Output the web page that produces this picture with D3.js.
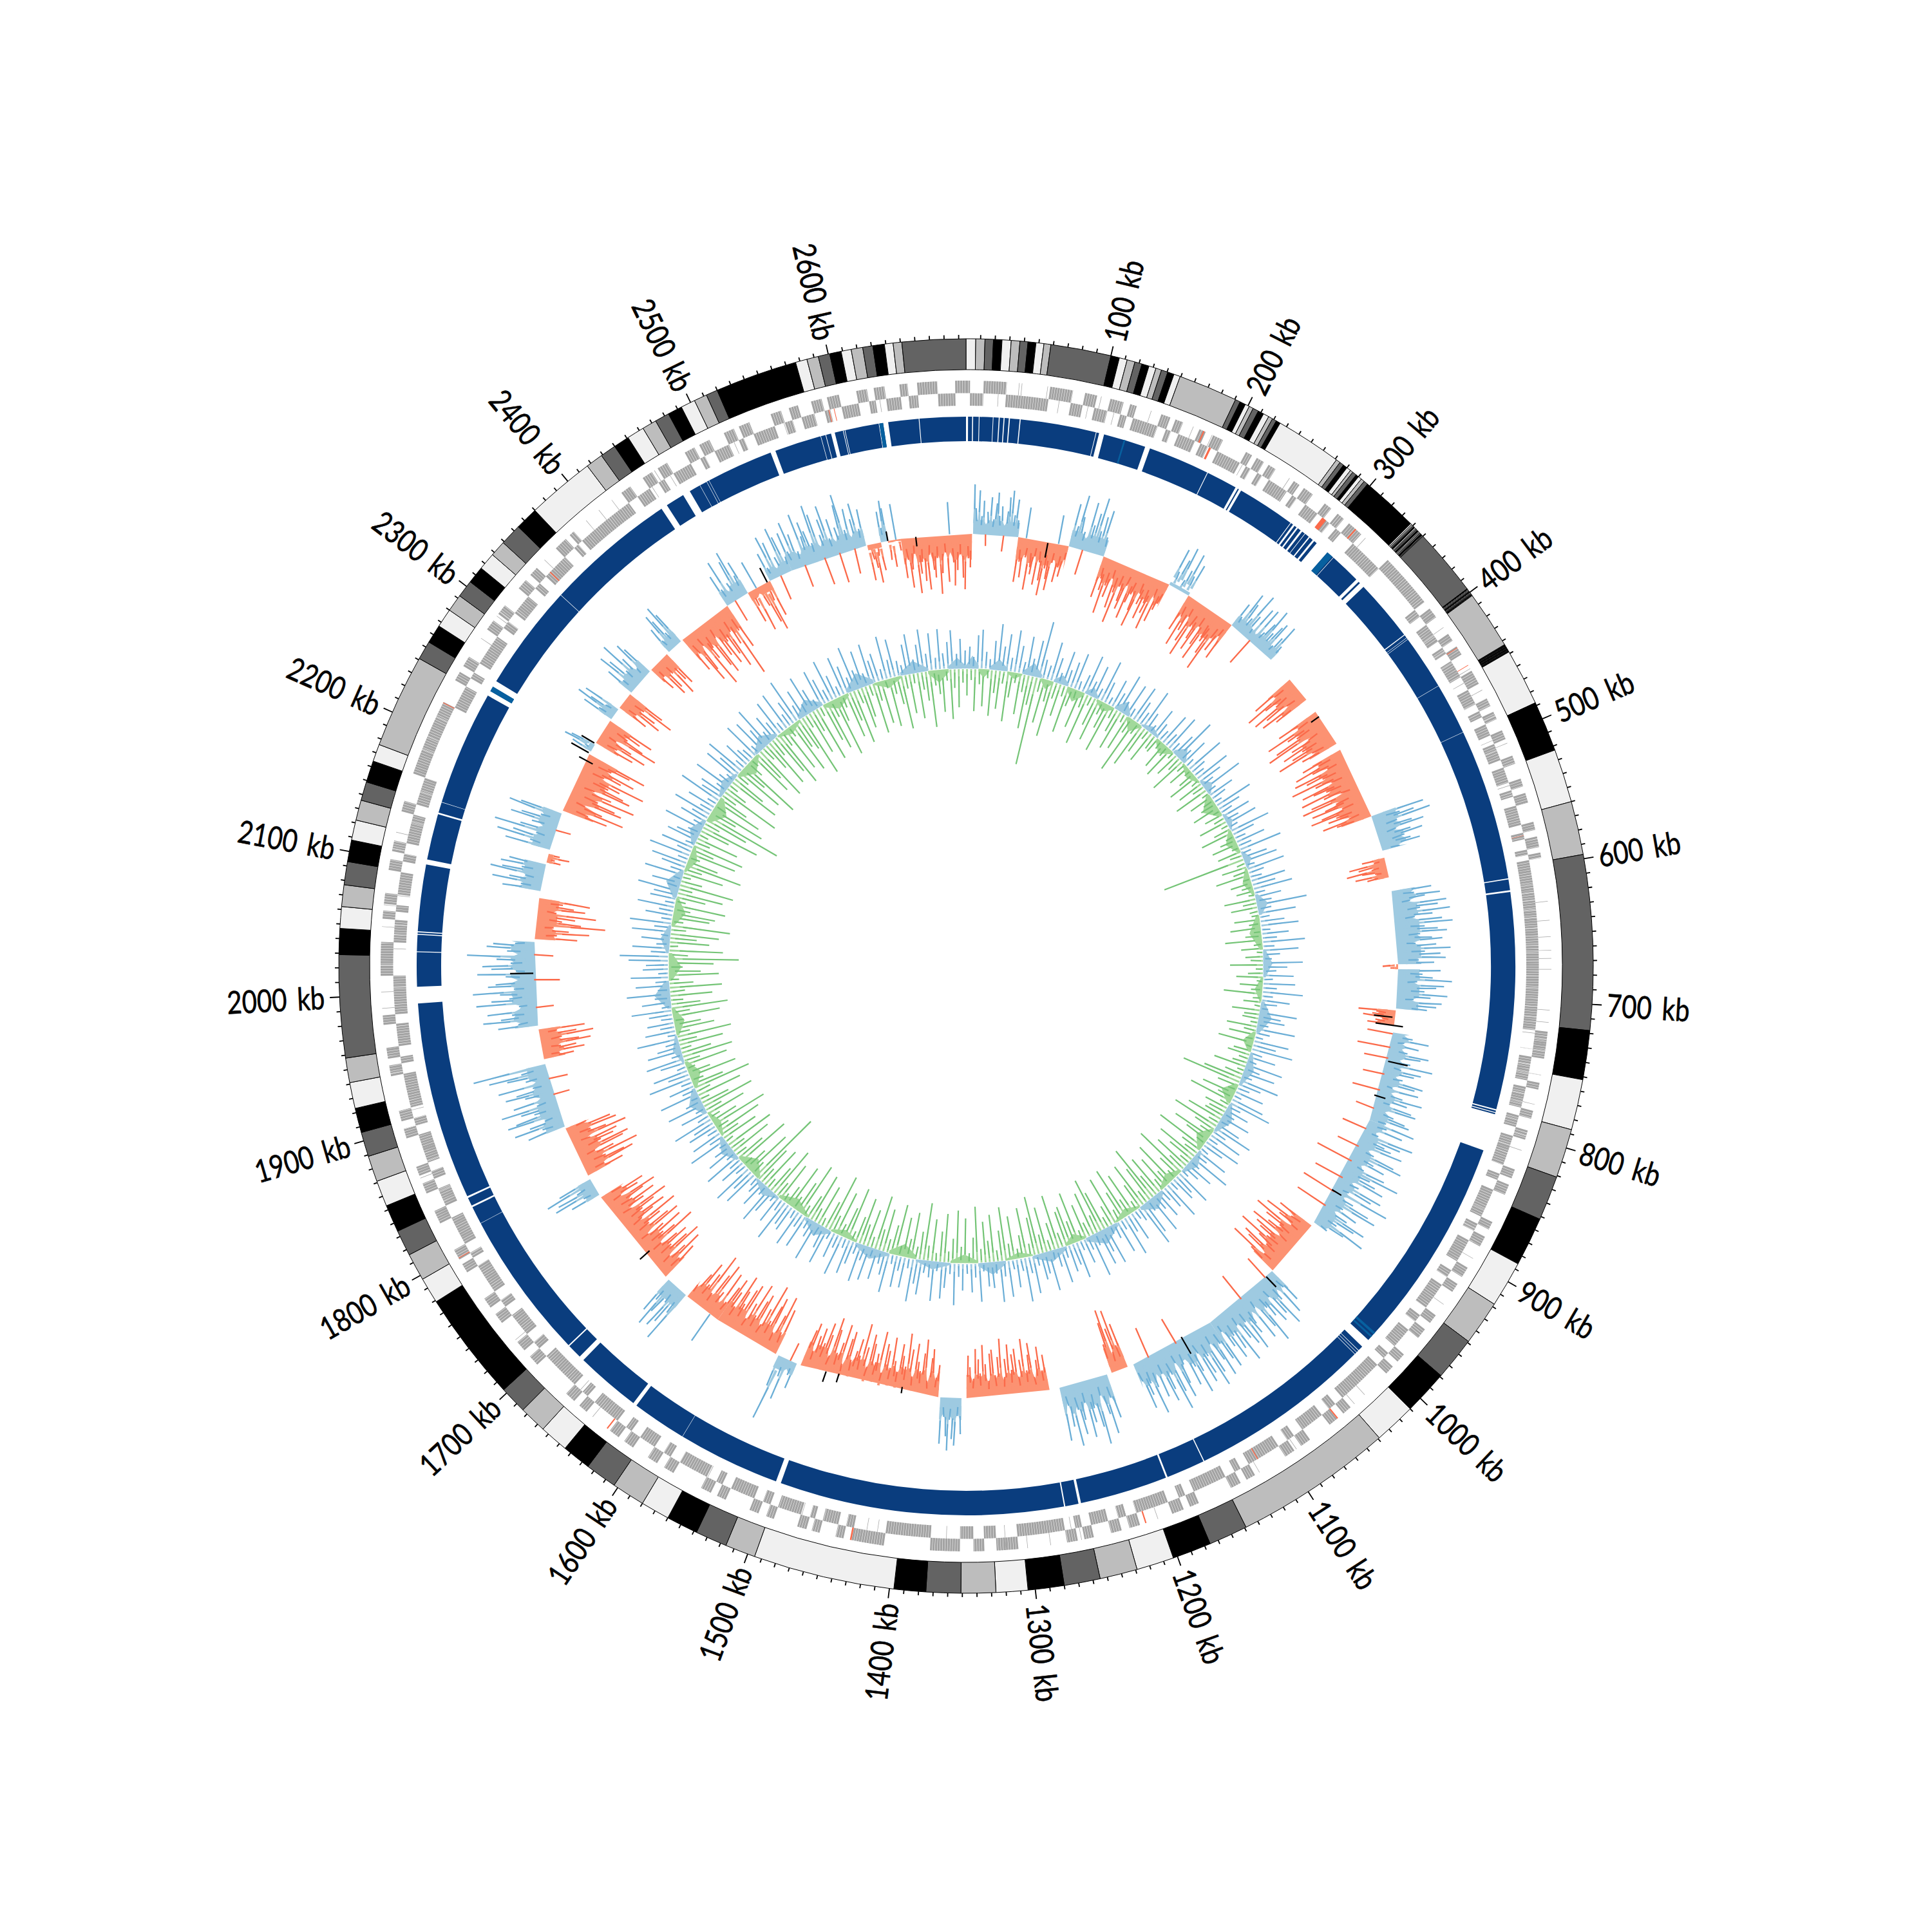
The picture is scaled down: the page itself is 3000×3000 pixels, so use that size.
<!DOCTYPE html>
<html><head><meta charset="utf-8">
<script src="https://cdn.jsdelivr.net/npm/d3@7"></script>
<style>html,body{margin:0;background:#fff}svg{display:block}text{font-family:Lato,"Noto Sans",sans-serif}</style>
</head><body><div id="c"></div>
<script>
const genomeKb = 2695;
const bandColors = ["#f0f0f0","#bdbdbd","#636363","#000000"];
const bandEnds = [6.7,13,18.8,24.7,31,37,42.5,48,53.5,58.3,100,106,111.5,117,122,127,132,136,140.5,145,149.5,190.5,194,198,201,204,208,212,216,219,222,225,271,274,277,280,283,285,288,290,292.5,295,298,338,
339,340,341,342,342.8,343.5,344.5,345.5,346.2,347,348,349,349.5,350,397,397.7,398.3,399,399.6,400.2,400.8,401.4,402,402.4,402.8,443,443.5,444,444.4,444.8,445.2,445.6,446,446.4,446.8,447.2,447.6,448,448.4,448.8,488,488.2,488.4,523,560,597,718,752,787,821,852,886,918,949,979,1010,1039,1149,1176,1203,1229,1255,1280,1305,1327,1351,1375,1397,1495,1516,1538,1560,1580,1603,1625,1645,1665,1684,1703,1779,1797,1816,1834,1853,1871,1889,1906,1923,1941,1958,2029,2047,2062,2077,2093,2108,2122,2136,2149,2164,2176,2241,2254,2267,2280,2292,2304,2316,2328,2339,2354,2370,2417,2429,2440,2451,2463,2473,2483,2493,2503,2512,2520,2577,2585,2593,2601,2609,2616,2624,2631,2639,2645,2651,2695];
const tickLabels = [100,200,300,400,500,600,700,800,900,1000,1100,1200,1300,1400,1500,1600,1700,1800,1900,2000,2100,2200,2300,2400,2500,2600];

const trackGaps = [[0,1.6],[4.8,5.6],[10,10.6],[21,21.5],[25.6,26.4],[29.4,30.2],[33.5,34.4],[42,42.8],[102.4,102.9],[105,109],[142.5,146.5],[195,195.6],[220,222],[223,225],[271,271.6],[273.5,275],[277,278.3],[281,282.5],[285,285.5],[289,290],[293,294.5],[297,308],[314,314.4],[339,341.5],[343,347],[396,396.7],[399,399.3],[400.5,400.8],[444,444.3],[485,485.3],[605,605.8],[614.3,615.7],[787,788],[789.3,790],[791,820.5],[995,1002],[1006,1006.4],[1008,1008.4],[1010,1010.4],[1155,1155.8],[1186.3,1187.7],[1257,1259],[1269.5,1270.5],[1495,1499],[1580,1580.3],[1623.5,1626.5],[1678,1682],[1693.5,1694.5],[1812,1812.3],[1826.3,1827.7],[1834.3,1835.7],[1992,2005],[2032,2032.7],[2045.6,2046.4],[2047.6,2048.4],[2101,2105],[2141.3,2142.7],[2151,2151.3],[2242,2246],[2250,2255],[2339,2339.4],[2443,2448],[2463,2469],[2478,2478.3],[2484,2484.3],[2486,2486.3],[2539,2543],[2580,2580.4],[2584,2584.5],[2588.5,2591.5],[2598,2598.5],[2599.4,2599.9],[2626.5,2627],[2630,2634],[2658,2658.6]];
const trackLight = [[125,126.3],[308,313],[987,989],[990.5,992],[2246,2250],[2627,2630]];

const geneInnerRuns = [[3,13],[30,62],[79,88],[97,107],[117,122],[127,146],[153,157],[163,176],[181,187],[195,214],[219,223],[229,233],[239,255],[260,264],[272,283],[289,295],[301,306],[318,345],[386,392],[400,415],[421,426],[433,447],[458,470],[476,481],[487,496],[503,516],[522,534],[540,545],[552,567],[573,578],[586,590],[594,722],[742,760],[765,781],[787,796],[803,826],[833,838],[846,868],[874,880],[888,906],[914,920],[927,948],[955,961],[969,985],[992,997],[1004,1040],[1047,1053],[1060,1078],[1086,1092],[1100,1126],[1133,1138],[1146,1172],[1179,1184],[1193,1218],[1226,1232],[1240,1253],[1260,1265],[1273,1309],[1325,1334],[1342,1352],[1374,1408],[1432,1438],[1444,1456],[1462,1466],[1473,1491],[1497,1503],[1510,1529],[1536,1541],[1549,1572],[1580,1586],[1594,1607],[1615,1620],[1628,1650],[1657,1662],[1670,1700],[1708,1714],[1722,1740],[1748,1754],[1762,1785],[1792,1796],[1804,1826],[1836,1850],[1858,1864],[1871,1893],[1900,1906],[1914,1940],[1948,1953],[1961,1978],[1985,2014],[2039,2056],[2062,2067],[2075,2092],[2100,2106],[2114,2136],[2144,2165],[2222,2240],[2247,2252],[2260,2284],[2292,2298],[2306,2322],[2330,2335],[2342,2362],[2372,2376],[2380,2425],[2433,2444],[2452,2457],[2465,2480],[2488,2492],[2500,2512],[2520,2524],[2532,2549],[2557,2563],[2570,2580],[2588,2592],[2601,2614],[2622,2627],[2635,2646],[2652,2659],[2674,2687]];
const geneThinOuter = [39,41,60,100,138,152,171,186,228,236,251,267,298,306,322,397,409,416,431,445,463,476,506,522,552,626,640,652,662,668,676,706,715,731,754,776,811,868,898,938,968,1026,1036,1090,1122,1204,1238,1262,1285,1302,1318,1416,1426,1610,1644,1724,1758,1802,1862,1900,1960,1990,2002,2024,2050,2066,2120,2180,2204,2276,2296,2350,2392,2404,2416,2430,2454,2500,2532,2566,2598,2618];
const geneThinInner = [24,46,70,92,112,130,146,176,216,244,261,283,290,334,392,415,426,452,470,500,536,574,724,736,772,812,846,878,916,956,1018,1052,1078,1104,1146,1196,1226,1252,1268,1318,1344,1362,1414,1422,1436,1452,1472,1520,1548,1604,1616,1664,1690,1708,1738,1796,1846,1882,1912,1934,1962,2034,2074,2118,2230,2262,2316,2342,2362,2446,2462,2516,2556,2592,2630,2652];
const geneHoles = [612,618,624,631,637,645,651,658,663,670,681,690,698,704,712,728,736,748,754,770,777,790,800,810,816,862,878,1840,1848,1872,1900,1914,1942,1976,2005,2022,2045,2052,2108,2130,2154,2184,2194,2210,2300,2308,400,410,424,434,470,484,508];
const geneRed = [[179,0,1],[188,1,1.6],[288,1,3.5],[312,0,1],[427,0,.5],[442,0,.5],[575,1,.3],[1052,0,1],[1118,1,.7],[1213,0,1],[1432,0,1.2],[1630,0,1],[1797,0,.5],[2221,0,.6],[2346,1,.8],[2591,1,.6],[2595,1,.5]];

const gcStart = [7,52,103,139,210,232,284,363,404,449,522,565,599,672,677,718,740,830,950,1010,1090,1183,1205,1264,1352,1375,1520,1543,1610,1650,1677,1782,1804,1858,1928,1962,2048,2096,2125,2138,2179,2244,2254,2282,2296,2315,2345,2370,2388,2444,2468,2493,2517,2596,2610,2617,2630];
const gcEnd   = [52,103,139,210,232,284,336,389,442,522,558,585,672,677,716,733,830,946,1009,1090,1177,1200,1254,1347,1373,1516,1540,1610,1648,1673,1779,1800,1856,1923,1958,2045,2089,2123,2134,2176,2241,2252,2280,2294,2313,2343,2367,2386,2444,2468,2493,2517,2595,2610,2617,2630,2701];
const gcBody  = [22,-38,26,-40,5,-42,18,-45,-48,-50,40,-22,36,-3,34,-28,26,24,-42,36,40,-40,44,-36,34,-40,20,-36,-32,26,-42,22,-40,30,-34,36,-32,34,-8,30,-50,8,-40,22,-34,26,-28,20,-42,24,-14,18,26,-8,14,-3,-40];
const gcSpikes = [
[77,40,68,28,52,-18,35,58,24,49,66,30,45,-25,38,60,71,33,58,26],
[-70,-38,-62,48,-30,-80,-44,-55,-26,-70,-34,-62,-85,-42,-58,-75,-31,45,-60,-36,-50,-22],
[68,34,84,50,28,-40,77,42,62,88,36,60,72,30],
[-66,-34,-52,-88,-42,-60,-28,-74,-48,-96,-36,-58,-70,-30,-82,-55,-40,-64,-90,-33,-50,-72,-44,-60,-84,-29,-68,-47,-35],
[62,25,48,70,18,36,66,30,52],
[-60,-34,-82,-54,-28,-70,-92,-40,-58,-76,-32,-62,-86,-44,-50,-68,-94,-36,-56,-26,-64],
[42,20,66,50,28,74,38,16,58,-46,62,24,44,70,32,48,56,18,36,60,26],
[-72,-36,-92,-60,-44,-88,-68,-30,-80,-58],
[-70,-38,-95,-62,-48,-88,-104,-34,-66,-84,-52,-72,-98,-40,-60],
[-68,-42,-84,-56,-32,-90,-72,-46,-100,-62,-36,-88,-70,-50,-94,-58,-30,-82,-98,-44,-64,-86,-38,-74,-92,-52,-66,-34,-78,-56],
[84,44,66,91,36,58,76,30,52,70,40,48,62,28],
[-36,-18,-58,-44,-24,-64,-40,-20,-52,-34],
[62,34,74,50,26,82,68,40,86,58,30,72,88,44,64,78,36,54,70,28,60,82,42,66,74,32,56],
[-24,-12],
[66,38,54,84,30,72,60,42,78,52,26,70,62,48],
[-58,-30,-36,-50,-20,-30,-42],
[-40,32,58,20,44,-52,28,62,50,-38,36,72,24,56,46,-34,30,64,52,18,60,-44,38,70,48,22,58,66,-30,34,54,62,26],
[74,30,58,-40,22,80,62,38,50,70,-36,28,64,78,34,54,-60,24,60,86,40,52,68,-48,30,72,58,20,90,-56,36,66,80,26,54,-52,42,76,60,32,84,50,24],
[-60,-34,-78,-52,-26,-90,-68,-40,-58,-84,-30,-72,-62,-44,-92,-55,-36,-76,-66,-28,-88,-50],
[58,30,74,-40,42,86,62,26,70,54,36,94,66,24,78,-46,44,60,84,32,70,56,28,90,64,38,76,52,22,82],
[66,36,88,60,28,76,96,42,70,82,30,58,92,46,74,-44,34,64,86,26,72,100,40,62,80,32,68,-50,48,90,38,56,76,30],
[-72,-38,-96,-68,-30,-100,-80,-46],
[70,36,92,60,28,104,76,44,66,88,32,58,80,40,96,64,30,84],
[-56,-32,-70,-50,-24,-78,-60,-36,-86,-54,-28,-72,-64,-40,-80,-58,-30,-90,-62,-34,-74,-68,-26,-52,-82,-38,-60,-76,-30,-48,-66],
[56,28,74,64,34,82,60,30,72],
[-50,-30,-74,-60,-24,-88,-66,-38,-52,-80,-28,-70,-94,-42,-58,-76,-32,-48,-84,-36,-62,-72,-26,-90,-54,-40,-68,-82,-30,-60,-96,-44,-70,-50,-34,-78,-66,-24,-86,-56,-38,-74,-92,-30,-62,-80,-46,-68,-54,-28,-72,-60],
[42,22,-30,66,30,104,50],
[-74,-34,-92,-60,-28,-84,-70,-42,-100,-58,-30,-78,-66,-38,-90,-54,-26,-82,-72,-44,-64,-88,-32,-56,-76],
[-60,-30,-78,50,-40,-86,-66,-28,-94,-58,-36,-72,-50,-24],
[88,40,62,74,30,54,80,36,60],
[-64,-36,-82,-56,-28,-90,-70,-42,-76,-60,-32,-98,-66,-46,-84,-54,-26,-88,-72,-38,-62,-94,-34,-58,-80,-44,-68,-92,-30,-56,-78,-40,-64,-86,-28,-60,-72,-36],
[48,24,72,64,30,80,56],
[-62,-32,-84,-70,-40,-96,-58,-28,-78,-88,-44,-66,-74,-30,-92,-60,-36,-80,-72,-34],
[60,34,78,52,26,84,70,38,58,88,30,66,-26,44,74,56,28,82,-30,36,64,92,40,115],
[-48,-26,-66,-54,-30,-78,-60,-34,-84,-58,-28,-72],
[62,30,84,56,38,76,-28,26,92,68,40,54,96,32,72,60,-40,44,88,28,66,80,36,58,104,-30,42,74,64,30],
[-66,-34,-84,-52,-28,-108,-70,-40,-60,-92,-30,-74,-56,-38,-80],
[60,32,78,52,28,84,66,36,70,58],
[-22,-12,-34,-18],
[72,34,88,64,28,96,56,-24,40,76,60,30,84,66],
[-72,-40,-96,-60,-30,-88,-76,-46,-104,-64,-34,-92,-80,-52,-70,-108,-38,-66,-86,-44,-74,-98],
[34,14,50,40],
[-64,-34,-82,-56,-26,-94,-70,-40,-60,-78],
[52,26,68,46,20,60],
[-50,-28,-70,-58,-34,-84,-64],
[48,22,70,56,28,78,44,18,64,52],
[-44,-22,-62,-52,-28,-70,-48,-58],
[44,20,64,52,26,72,56],
[-62,-34,-88,-70,-28,-104,-58,-40,-78,-92,-30,-66,-84,-46,-72,-96,-36,-60,-117,-42,-74],
[52,26,72,-36,30,64,78,34,56],
[-52,-26,-70,46,-34,-64,-78,-30,-58],
[46,20,70,58,-40,30,76,60,24],
[62,30,76,54,24,-36,82,44,66,50,28,88,72,-44,36,60,80,26,56,-48,40,74,90,32,64,-40,46,70,28,58],
[-56,-24,-38,-62,-20,-44],
[48,22,64,52],
[-30,-42,56,-18],
[-62,-34,-78,-50,-26,-88,-58,-40,-70,-84,-30,-54,-66,-36,-92,-60,-28,-74,50,-44,-80,-56,-32,-68,-86,-38,-52]
];
const gcBlackKb = [725,733,769,805,410,2645,82,2014,2253,2242,2234,1490,1477,1412,1707,909,1018,1122,2490,2617];
const gcBlackFrom = [-33,-29,1,-6,-15,-15,-25,1,2,2,-12,-5,-8,-10,-10,-5,0,-5,0,0];
const gcBlackTo = [-4,14,32,12,0,0,-2,37,25,33,12,12,6,0,10,12,22,25,25,15];

const skewUp = [
34,18,52,61,27,16,45,72,38,58,22,66,43,19,60,27,57,89,30,23,62,39,17,54,26,
41,58,15,29,63,24,52,18,67,35,13,46,28,62,20,54,16,59,37,23,65,30,14,47,26,
19,53,24,60,17,38,71,22,45,15,63,26,18,58,39,21,66,16,42,25,13,61,37,20,46,
23,50,15,64,36,18,47,22,68,16,39,53,14,60,25,19,55,37,62,17,41,24,78,21,58,
16,38,59,14,42,23,66,18,55,26,13,61,37,20,47,15,50,22,63,17,44,25,12,58,34,
41,17,60,22,13,55,37,65,19,42,14,58,24,50,16,62,36,20,46,13,53,68,21,38,18,
47,15,39,63,23,54,17,60,35,14,52,21,66,18,46,27,13,59,34,41,16,62,38,20,45,
26,61,18,53,70,22,15,47,29,64,17,52,24,13,60,37,55,19,67,21,40,16,58,35,43,
18,56,28,14,62,33,41,17,59,26,69,20,44,15,57,24,63,18,40,37,13,60,22,45,16,
42,21,65,17,39,56,14,61,25,19,54,38,67,16,48,23,50,15,62,36,20,47,13,53,24,
60,18,37,55,16,64,22,41,14,58,35,19,63,28,17,54,23,59,15,42,36,68,20,46,13,
39,61,17,43,24,15,58,37,66,19,42,21,60,16,45,28,14,63,23,50,18,47,35,65,20,
44,16,59,26,13,62,22,41,18,68,34,56,15,39,60,17,53,36,21,64,14,48,23,42,19,
37,63,15,45,24,67,18,52,21,59,16,40,35,62,76,28,57,20,44,14,60,26,65,17,43,
23,58,16,41,37,64,19,45,13,61,22,39,57,17,66,24,52,15,49,36,20,63,18,44,28,
62,21,46,16,69,35,41,18,60,23,14,58,38,65,17,43,26,20,61,15,55,34,67,19,42,
27,58,16,63,22,40,72,24,46,18,61,36,15,59,42,21,66,38,17,62,44,23,70,30,58,
20,64,36,45,18,68,29,60,24,16,47,62,21,43,66,27,58,19,63,25,42,60,23,46,28];
const skewDown = [
42,18,66,24,58,14,72,36,60,20,78,40,16,64,28,84,46,139,22,70,34,88,26,52,18,
74,30,14,60,24,82,16,46,68,22,42,78,18,38,64,14,58,26,90,20,72,44,16,52,24,
26,14,44,18,52,12,40,24,60,16,36,12,28,50,14,42,20,56,12,38,18,26,44,12,30,
18,46,12,28,52,14,26,42,12,38,20,132,14,40,24,54,12,34,18,28,10,50,22,42,14,
12,40,18,48,12,26,58,14,34,10,28,20,52,12,24,42,10,36,18,60,14,28,10,44,24,
26,12,48,20,42,14,56,10,28,36,16,24,52,12,30,62,95,34,14,54,26,70,16,38,28,
32,58,18,76,36,22,64,40,16,82,34,24,68,44,18,60,30,86,38,16,72,26,56,20,66,
38,92,60,22,74,42,16,68,28,84,48,20,78,34,18,64,88,30,70,24,56,16,80,36,62,
56,24,86,44,18,72,30,92,60,20,78,36,16,68,26,84,48,18,74,34,64,22,88,40,16,
70,26,82,38,18,76,48,14,66,24,90,44,20,72,30,62,16,80,46,22,68,34,86,18,60,
34,74,42,16,84,50,20,70,28,92,46,14,66,24,78,40,18,86,52,22,72,32,14,64,26,
82,46,18,70,28,62,121,24,76,38,16,88,48,20,68,26,80,14,60,32,74,22,90,44,18,
64,28,84,46,16,72,24,92,50,20,76,36,14,68,26,80,48,18,70,30,86,22,62,42,16,
74,28,88,46,20,66,24,82,38,16,78,50,22,70,109,30,84,14,62,42,76,24,92,18,58,
66,26,80,16,46,72,22,86,34,14,64,28,90,50,18,74,36,82,24,68,16,48,94,26,70,
122,44,88,20,76,50,26,96,36,16,84,56,22,78,44,100,28,14,72,52,90,24,46,80,30,
68,92,26,74,18,84,46,54,100,22,70,36,88,16,62,78,28,94,40,20,72,48,86,24,66,
50,18,80,30,68,14,76,26,44,84,22,62,16,72,28,46,88,24,38,66,18,78,30,60,22];
const skewStart = [0,18,34,60,82,110,128,150,176,196,224,248,270,300,330,352,388,410,445,470,505,530,570,600,650,690,725,770,800,850,880,925,960,1000,1040,1080,1120,1170,1200,1250,1290,1330,1370,1420,1460,1510,1550,1590,1640,1680,1720,1760,1800,1840,1880,1920,1960,2000,2040,2080,2120,2160,2200,2240,2280,2320,2360,2400,2440,2480,2520,2560,2600,2640,2670];
const skewEnd   = [18,34,60,82,110,128,150,176,196,224,248,270,300,330,352,388,410,445,470,505,530,570,600,650,690,725,770,800,850,880,925,960,1000,1040,1080,1120,1170,1200,1250,1290,1330,1370,1420,1460,1510,1550,1590,1640,1680,1720,1760,1800,1840,1880,1920,1960,2000,2040,2080,2120,2160,2200,2240,2280,2320,2360,2400,2440,2480,2520,2560,2600,2640,2670,2695];
const skewBody  = [20,-14,17,-10,20,-15,14,-20,14,-14,19,-20,10,-17,20,-12,15,-24,10,-17,12,-14,17,-19,14,-12,20,-17,14,-22,17,-20,14,-15,19,-12,22,-14,17,-10,19,-14,12,-20,17,-12,19,-17,14,-22,17,-12,20,-19,12,-17,24,-20,14,-19,22,-14,17,-24,14,-20,19,-12,22,-17,24,-14,19,-20,17];

const angle = d3.scaleLinear().domain([0, genomeKb]).range([0, 2 * Math.PI]);
const gcR = d3.scaleLinear().domain([-120, 120]).range([551, 791]);
const skewR = d3.scaleLinear().domain([-140, 90]).range([322, 552]);
const RING = {ideoIn: 926, ideoOut: 974, trackIn: 815, trackOut: 853, rowIn: 870, rowMid: 889.5, rowOut: 909};
const C = {navy:"#0a3d7e", navyLight:"#07609f", gene:"#a3a3a3", red:"#fb6a4a", redLight:"#fc9272", blue:"#6baed6", blueLight:"#9ecae1", green:"#74c476", greenLight:"#a1d99b"};

const svg = d3.select("#c").append("svg").attr("width", 3000).attr("height", 3000);
svg.append("rect").attr("width", 3000).attr("height", 3000).attr("fill", "#fff");
const g = svg.append("g").attr("transform", "translate(1500,1500)");
const arc = d3.arc();
const sector = (r0, r1, a, b) => arc({innerRadius: r0, outerRadius: r1, startAngle: angle(a), endAngle: angle(b)});
const arcLine = (r, a, b) => { const p = d3.path(); p.arc(0, 0, r, angle(a) - Math.PI / 2, angle(b) - Math.PI / 2); return p.toString(); };

g.append("g").selectAll("path").data(bandEnds).join("path")
  .attr("d", (d, i) => sector(RING.ideoIn, RING.ideoOut, i ? bandEnds[i - 1] : 0, d))
  .attr("fill", (d, i) => bandColors[i % 4]).attr("stroke", "#000").attr("stroke-width", 1);

const tickKb = d3.range(10, genomeKb, 10);
g.append("g").selectAll("line").data(tickKb).join("line")
  .attr("x1", d => d3.pointRadial(angle(d), RING.ideoOut)[0]).attr("y1", d => d3.pointRadial(angle(d), RING.ideoOut)[1])
  .attr("x2", d => d3.pointRadial(angle(d), RING.ideoOut + (d % 100 ? 6 : 15))[0]).attr("y2", d => d3.pointRadial(angle(d), RING.ideoOut + (d % 100 ? 6 : 15))[1])
  .attr("stroke", "#000").attr("stroke-width", 1.8);

g.append("g").selectAll("text").data(tickLabels).join("text")
  .attr("transform", d => {
    const deg = angle(d) * 180 / Math.PI, right = deg < 180;
    const p = d3.pointRadial(angle(d), 997);
    return `translate(${p[0]},${p[1]}) rotate(${right ? deg - 90 : deg + 90}) scale(.82,1)`;
  })
  .attr("text-anchor", d => angle(d) < Math.PI ? "start" : "end")
  .attr("dy", "0.36em").attr("font-size", 49).attr("fill", "#000").attr("stroke", "#000").attr("stroke-width", 0.6)
  .attr("word-spacing", 7)
  .text(d => d + " kb");

const geneG = g.append("g");
const rowR = [(RING.rowMid + RING.rowOut) / 2, (RING.rowIn + RING.rowMid) / 2];
const rowW = RING.rowOut - RING.rowMid;
const runs = [];
let cursor = 0;
geneInnerRuns.forEach(r => { runs.push({a: cursor, b: r[0], row: 0}); runs.push({a: r[0], b: r[1], row: 1}); cursor = r[1]; });
runs.push({a: cursor, b: genomeKb, row: 0});
geneG.selectAll("path.run").data(runs).join("path").attr("class", "run")
  .attr("d", d => arcLine(rowR[d.row], d.a, d.b)).attr("fill", "none")
  .attr("stroke", C.gene).attr("stroke-width", rowW).attr("stroke-dasharray", "3.4 0.5");
const thin = geneThinOuter.map(k => ({k, row: 0})).concat(geneThinInner.map(k => ({k, row: 1})));
geneG.selectAll("path.thin").data(thin).join("path").attr("class", "thin")
  .attr("d", d => arcLine(rowR[d.row], d.k, d.k + 0.35)).attr("fill", "none")
  .attr("stroke", C.gene).attr("stroke-width", rowW);
geneG.selectAll("path.hole").data(geneHoles).join("path").attr("class", "hole")
  .attr("d", d => sector(RING.rowIn, RING.rowOut, d, d + 0.22)).attr("fill", "#fff");
geneG.selectAll("path.red").data(geneRed).join("path").attr("class", "red")
  .attr("d", d => arcLine(rowR[d[1]], d[0], d[0] + d[2])).attr("fill", "none")
  .attr("stroke", C.red).attr("stroke-width", rowW);

const blocks = [];
trackGaps.concat([[genomeKb, genomeKb]]).reduce((prev, gap) => { if (gap[0] > prev) blocks.push([prev, gap[0]]); return gap[1]; }, 0);
g.append("g").selectAll("path").data(blocks).join("path")
  .attr("d", d => sector(RING.trackIn, RING.trackOut, d[0], d[1])).attr("fill", C.navy);
g.append("g").selectAll("path").data(trackLight).join("path")
  .attr("d", d => sector(RING.trackIn, RING.trackOut, d[0], d[1])).attr("fill", C.navyLight);

function drawSections(parent, rScale, sections, colors, bodyShare, endShare) {
  const layer = parent.append("g");
  const spikeLayer = parent.append("g");
  sections.forEach(s => {
    const sign = s.body > 0 ? 1 : -1, abs = Math.abs(s.body);
    const pos = s.spikes.map((v, i) => ({k: s.start + (i + 0.5) * (s.end - s.start) / s.spikes.length, v}));
    const edge = [{k: s.start, h: abs * endShare}]
      .concat(pos.map(p => ({k: p.k, h: p.v * sign > 0 ? Math.min(Math.abs(p.v) * bodyShare, abs) : abs * .7})))
      .concat([{k: s.end, h: abs * endShare}]);
    const outer = edge.map(e => d3.pointRadial(angle(e.k), rScale(sign * e.h)));
    const base = [s.end, s.start].map(k => d3.pointRadial(angle(k), rScale(0)));
    layer.append("path").attr("d", "M" + outer.concat(base).join("L") + "Z")
      .attr("fill", sign > 0 ? colors.upLight : colors.downLight);
  });
  return {layer, spikeLayer};
}
function drawSpike(sel, rScale, k, v, from, lineFrom, light, dark, lineW, halfKb) {
  const lean = (Math.abs(v) % 5 - 2) * 0.42;
  const tip = d3.pointRadial(angle(k + lean), rScale(v));
  const a = d3.pointRadial(angle(k - halfKb), rScale(from));
  const b = d3.pointRadial(angle(k + halfKb), rScale(from));
  sel.append("path").attr("d", `M${a}L${tip}L${b}Z`).attr("fill", light);
  const m = d3.pointRadial(angle(k), rScale(lineFrom));
  sel.append("line").attr("x1", m[0]).attr("y1", m[1]).attr("x2", tip[0]).attr("y2", tip[1])
    .attr("stroke", dark).attr("stroke-width", lineW);
}

const gcSections = gcStart.map((s, i) => ({start: s, end: gcEnd[i], body: gcBody[i], spikes: gcSpikes[i]}));
const gcLayers = drawSections(g, gcR, gcSections, {upLight: C.blueLight, downLight: C.redLight}, 0.85, 1);
gcSections.forEach(s => s.spikes.forEach((v, i) => {
  const k = s.start + (i + 0.5) * (s.end - s.start) / s.spikes.length;
  const same = v * s.body > 0;
  drawSpike(gcLayers.spikeLayer, gcR, k, v, same ? v * 0.22 : v * 0.1, same ? v * 0.5 : 0, v > 0 ? C.blueLight : C.redLight, v > 0 ? C.blue : C.red, 2.3, same ? 1.3 : .5);
}));
g.append("g").selectAll("line").data(gcBlackKb).join("line")
  .attr("x1", (d, i) => d3.pointRadial(angle(d), gcR(gcBlackFrom[i]))[0]).attr("y1", (d, i) => d3.pointRadial(angle(d), gcR(gcBlackFrom[i]))[1])
  .attr("x2", (d, i) => d3.pointRadial(angle(d), gcR(gcBlackTo[i]))[0]).attr("y2", (d, i) => d3.pointRadial(angle(d), gcR(gcBlackTo[i]))[1])
  .attr("stroke", "#000").attr("stroke-width", 2.2);

const skewSections = skewStart.map((s, i) => ({start: s, end: skewEnd[i], body: skewBody[i], spikes: [skewBody[i]]}));
const skewLayers = drawSections(g, skewR, skewSections, {upLight: C.blueLight, downLight: C.greenLight}, 1, 0.25);
const skewStep = genomeKb / skewUp.length;
skewDown.forEach((v, i) => drawSpike(skewLayers.spikeLayer, skewR, (i + 0.25) * skewStep, -v, -1, -v * 0.2, C.greenLight, C.green, 2.2, 1.4));
skewUp.forEach((v, i) => drawSpike(skewLayers.spikeLayer, skewR, (i + 0.75) * skewStep, v, 1, v * 0.2, C.blueLight, C.blue, 2.2, 1.4));
</script></body></html>
